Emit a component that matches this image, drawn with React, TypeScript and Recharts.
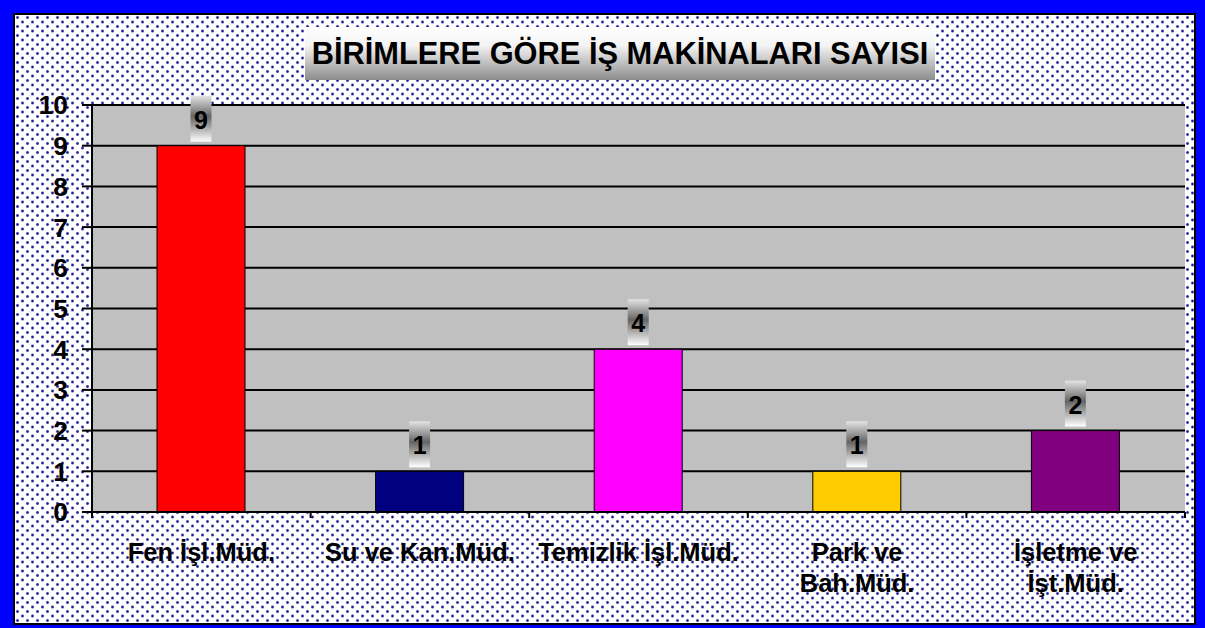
import React from 'react';
import { BarChart, Bar, XAxis, YAxis, CartesianGrid, Cell, LabelList } from 'recharts';

const categories = ['Fen İşl.Müd.', 'Su ve Kan.Müd.', 'Temizlik İşl.Müd.', 'Park ve\nBah.Müd.', 'İşletme ve\nİşt.Müd.'];
const counts = [9, 1, 4, 1, 2];
const barColors = ['#FF0000', '#000080', '#FF00FF', '#FFCC00', '#800080'];
const yTicks = [0, 1, 2, 3, 4, 5, 6, 7, 8, 9, 10];

const data = categories.map((name, i) => ({ name, value: counts[i] }));

const W = 1205;
const H = 628;
const MARGIN = { top: 105, right: 20, bottom: 0, left: 0 };
const Y_W = 92;
const PLOT_W = W - MARGIN.left - MARGIN.right - Y_W;
const FONT = '"Liberation Sans", Arial, sans-serif';

function XTick(props: any) {
  const { x, y, payload, index } = props;
  const bw = PLOT_W / categories.length;
  const lines = String(payload.value).split('\n');
  return (
    <g>
      <line x1={x - bw / 2} x2={x - bw / 2} y1={y} y2={y + 6} stroke="#000" strokeWidth={2} />
      {index === categories.length - 1 && (
        <line x1={x + bw / 2} x2={x + bw / 2} y1={y} y2={y + 6} stroke="#000" strokeWidth={2} />
      )}
      {lines.map((l, i) => (
        <text
          key={i}
          x={x}
          y={y + 49 + i * 31}
          textAnchor="middle"
          fontFamily={FONT}
          fontWeight="bold"
          fontSize={25.5}
          fill="#000"
        >
          {l}
        </text>
      ))}
    </g>
  );
}

function ValueLabel(props: any) {
  const { x, y, width, value, index } = props;
  const cx = x + width / 2;
  const bw = 21;
  const bh = 46;
  const top = y - 4 - bh;
  const id = `lblGrad${index}`;
  return (
    <g>
      <defs>
        <linearGradient id={id} x1="0" y1="0" x2="0" y2="1">
          <stop offset="0%" stopColor="#e4e4e4" />
          <stop offset="45%" stopColor="#646464" />
          <stop offset="100%" stopColor="#ffffff" />
        </linearGradient>
      </defs>
      <rect x={cx - bw / 2} y={top} width={bw} height={bh} fill={`url(#${id})`} />
      <text
        x={cx}
        y={top + bh / 2 + 1}
        textAnchor="middle"
        dominantBaseline="central"
        fontFamily={FONT}
        fontWeight="bold"
        fontSize={25}
        fill="#000"
      >
        {value}
      </text>
    </g>
  );
}

export default function App() {
  const dot = (px: number, py: number) =>
    `radial-gradient(circle at ${px}px ${py}px, #1e1e8c 0.8px, rgba(80,80,190,0.45) 1.5px, rgba(255,255,255,0) 2.1px)`;
  const dots = `${dot(2.5, 2.5)}, ${dot(7.5, 7)}`;
  return (
    <div style={{ position: 'relative', width: W, height: H, background: '#0000FF', overflow: 'hidden' }}>
      <style>{'body{margin:0}'}</style>
      <div
        style={{
          position: 'absolute',
          left: 13,
          top: 13,
          width: 1196 - 13,
          height: 625 - 13,
          boxSizing: 'border-box',
          border: '2px solid #000',
          backgroundColor: '#fff',
          backgroundImage: dots,
          backgroundSize: '10px 9px',
        }}
      />
      <div
        style={{
          position: 'absolute',
          left: 305,
          top: 27,
          width: 630,
          height: 53,
          background: 'linear-gradient(#ffffff 0%, #f4f4f4 35%, #8c8c8c 100%)',
          display: 'flex',
          alignItems: 'center',
          justifyContent: 'center',
          fontFamily: FONT,
          fontWeight: 'bold',
          fontSize: 30.8,
          color: '#000',
          whiteSpace: 'nowrap',
        }}
      >
        BİRİMLERE GÖRE İŞ MAKİNALARI SAYISI
      </div>
      <div style={{ position: 'absolute', left: 0, top: 0 }}>
        <BarChart width={W} height={H} data={data} margin={MARGIN} barCategoryGap="30%">
          <CartesianGrid
            vertical={false}
            horizontal
            fill="#C0C0C0"
            stroke="#000"
            strokeWidth={2}
            horizontalValues={yTicks}
          />
          <XAxis
            dataKey="name"
            interval={0}
            height={116}
            tickSize={0}
            tickMargin={0}
            tickLine={false}
            axisLine={{ stroke: '#000', strokeWidth: 2 }}
            tick={<XTick />}
          />
          <YAxis
            domain={[0, 10]}
            ticks={yTicks}
            interval={0}
            width={Y_W}
            tickSize={10}
            tickMargin={14}
            tickLine={{ stroke: '#000', strokeWidth: 2 }}
            axisLine={{ stroke: '#000', strokeWidth: 2 }}
            tick={{ fill: '#000', fontFamily: FONT, fontWeight: 'bold', fontSize: 26.5 }}
          />
          <YAxis
            yAxisId="right"
            orientation="right"
            width={0}
            tick={false}
            tickLine={false}
            axisLine={{ stroke: '#808080', strokeWidth: 2 }}
          />
          <Bar dataKey="value" barSize={88} stroke="#000" strokeWidth={1} isAnimationActive={false}>
            {data.map((d, i) => (
              <Cell key={d.name} fill={barColors[i]} />
            ))}
            <LabelList dataKey="value" content={<ValueLabel />} />
          </Bar>
        </BarChart>
      </div>
    </div>
  );
}
